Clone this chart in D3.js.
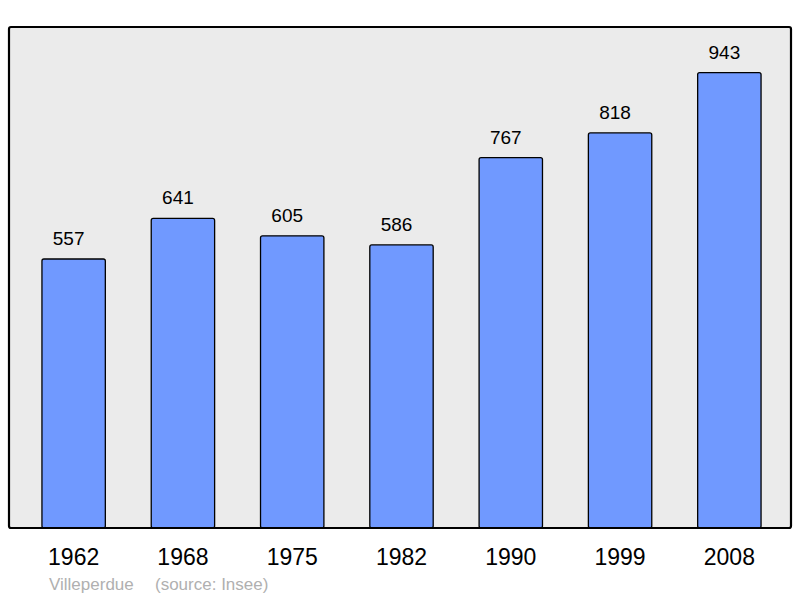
<!DOCTYPE html>
<html>
<head>
<meta charset="utf-8">
<script src="https://cdn.jsdelivr.net/npm/d3@7"></script>
<style>
  body { margin: 0; background: #fff; }
  text { font-family: "Liberation Sans", Arial, sans-serif; }
</style>
</head>
<body>
<div id="chart"></div>
<script>
var years = ["1962", "1968", "1975", "1982", "1990", "1999", "2008"];
var population = [557, 641, 605, 586, 767, 818, 943];
var place = "Villeperdue";
var source = "(source: Insee)";

var width = 800,
    height = 598;

var frame = { left: 9, top: 27, right: 791, bottom: 528 };

var svg = d3.select("#chart")
    .append("svg")
    .attr("width", width)
    .attr("height", height);

// background panel
svg.append("rect")
    .attr("x", frame.left)
    .attr("y", frame.top)
    .attr("width", frame.right - frame.left)
    .attr("height", frame.bottom - frame.top)
    .attr("rx", 2)
    .attr("fill", "#ebebeb");

var x = d3.scaleBand()
    .domain(years)
    .range([19, 784])
    .paddingInner(0.42)
    .paddingOuter(0.21);

var y = d3.scaleLinear()
    .domain([0, d3.max(population) * 1.1])
    .range([frame.bottom, frame.top]);

var data = years.map(function(d, i) { return { year: d, value: population[i] }; });

svg.selectAll("rect.bar")
    .data(data)
    .enter().append("rect")
    .attr("class", "bar")
    .attr("x", function(d) { return x(d.year); })
    .attr("y", function(d) { return y(d.value); })
    .attr("width", x.bandwidth())
    .attr("height", function(d) { return y(0) - y(d.value); })
    .attr("rx", 2)
    .attr("fill", "#7099ff")
    .attr("stroke", "#000")
    .attr("stroke-width", 1.3);

// value labels above bars (sit a little left of centre, like the original)
svg.selectAll("text.value")
    .data(data)
    .enter().append("text")
    .attr("class", "value")
    .attr("x", function(d) { return x(d.year) + x.bandwidth() / 2 - 5; })
    .attr("y", function(d) { return y(d.value) - 14; })
    .attr("text-anchor", "middle")
    .attr("font-size", 19)
    .attr("fill", "#000")
    .text(function(d) { return d.value; });

// frame outline drawn on top so it covers bar bottoms
svg.append("rect")
    .attr("x", frame.left)
    .attr("y", frame.top)
    .attr("width", frame.right - frame.left)
    .attr("height", frame.bottom - frame.top)
    .attr("rx", 2)
    .attr("fill", "none")
    .attr("stroke", "#000")
    .attr("stroke-width", 2.2);

// year axis
var xAxis = svg.append("g")
    .attr("transform", "translate(0," + frame.bottom + ")")
    .call(d3.axisBottom(x).tickSize(0).tickPadding(21));
xAxis.select(".domain").remove();
xAxis.selectAll("text")
    .attr("font-family", "Liberation Sans, Arial, sans-serif")
    .attr("font-size", 23)
    .attr("fill", "#000");

// caption
svg.append("text")
    .attr("x", 49)
    .attr("y", 590)
    .attr("font-size", 17)
    .attr("fill", "#b0b0b0")
    .text(place);

svg.append("text")
    .attr("x", 155)
    .attr("y", 590)
    .attr("font-size", 17)
    .attr("fill", "#b0b0b0")
    .text(source);
</script>
</body>
</html>
